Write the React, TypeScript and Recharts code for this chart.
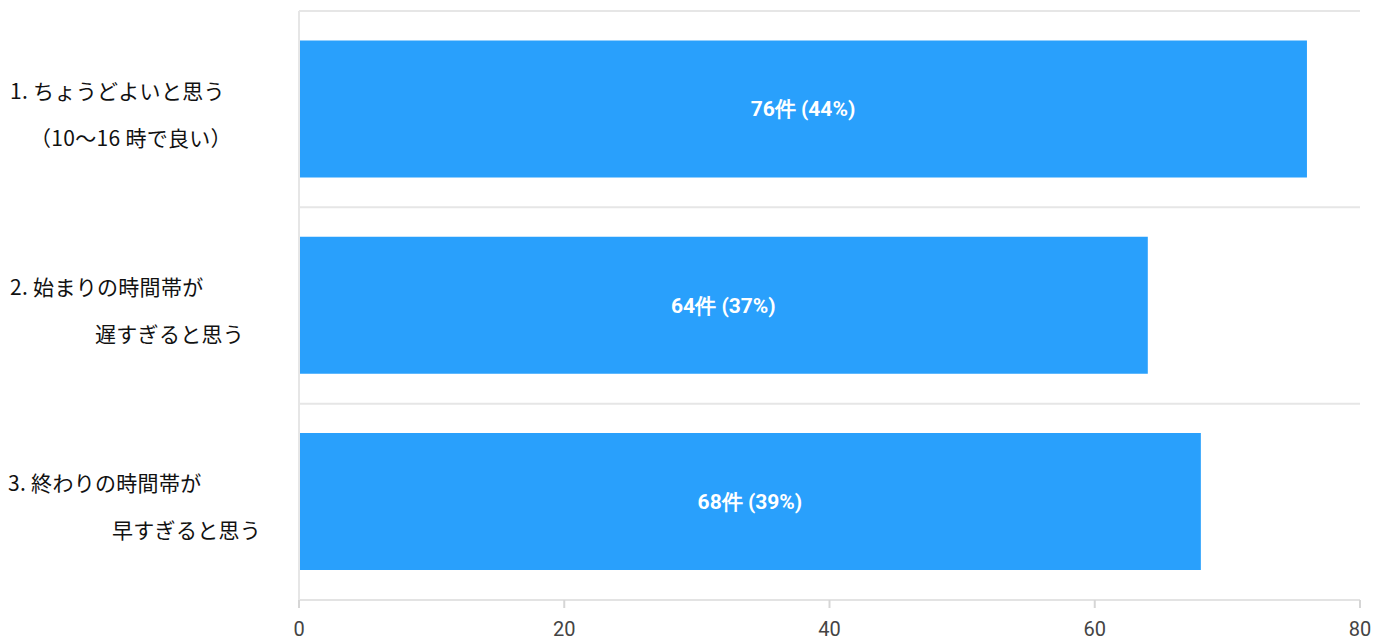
import { Bar, BarChart, CartesianGrid, LabelList, XAxis, YAxis } from "recharts";

const categories = ["1", "2", "3"];
const labelLines = [
  ["1. ちょうどよいと思う", "（10～16 時で良い）"],
  ["2. 始まりの時間帯が", "遅すぎると思う"],
  ["3. 終わりの時間帯が", "早すぎると思う"],
];
const counts = [76, 64, 68];
const percents = [44, 37, 39];
const xTicks = [0, 20, 40, 60, 80];

// left start of each label line (px from chart left)
const lineIndents = [
  [10, 30],
  [10, 95],
  [8, 112],
];

const data = categories.map((c, i) => ({ name: c, count: counts[i], idx: i }));

const CJK = '"Noto Sans CJK JP", "Noto Sans", sans-serif';

function CategoryTick(props: any) {
  const { y, payload } = props;
  const i = payload.index;
  const lines = labelLines[i];
  return (
    <g>
      <text x={lineIndents[i][0]} y={y - 18} dy="0.35em" fill="#111" fontSize={21} fontFamily={CJK} letterSpacing={0.3}>
        {lines[0]}
      </text>
      <text x={lineIndents[i][1]} y={y + 29} dy="0.35em" fill="#111" fontSize={21} fontFamily={CJK} letterSpacing={0.3}>
        {lines[1]}
      </text>
    </g>
  );
}

export default function App() {
  return (
    <div style={{ position: "absolute", left: 0, top: 0 }}>
      <BarChart
        width={1388}
        height={643}
        data={data}
        layout="vertical"
        barCategoryGap="15%"
        margin={{ top: 11, right: 28, bottom: 0, left: 0 }}
      >
        <CartesianGrid
          vertical={false}
          stroke="#e6e6e6"
          strokeWidth={2}
          horizontalCoordinatesGenerator={({ offset }: any) =>
            categories.map((_, i) => offset.top + (offset.height * i) / categories.length).concat(offset.top + offset.height)
          }
        />
        <XAxis
          type="number"
          domain={[0, 80]}
          ticks={xTicks}
          height={43}
          tickSize={8}
          tickMargin={14}
          axisLine={{ stroke: "#e3e3e3", strokeWidth: 2 }}
          tickLine={{ stroke: "#d6d6d6", strokeWidth: 2 }}
          tick={{ fill: "#444", fontSize: 20, fontFamily: "Roboto, sans-serif" }}
        />
        <YAxis
          type="category"
          dataKey="name"
          width={299}
          axisLine={{ stroke: "#e6e6e6", strokeWidth: 2 }}
          tickLine={false}
          tick={<CategoryTick />}
          interval={0}
        />
        <Bar dataKey="count" fill="#29a0fc" isAnimationActive={false}>
          <LabelList
            dataKey="idx"
            position="center"
            fill="#fff"
            fontSize={21}
            fontWeight="bold"
            fontFamily="Roboto, sans-serif"
            formatter={(v: any) => `${counts[v]}件 (${percents[v]}%)`}
          />
        </Bar>
      </BarChart>
    </div>
  );
}
